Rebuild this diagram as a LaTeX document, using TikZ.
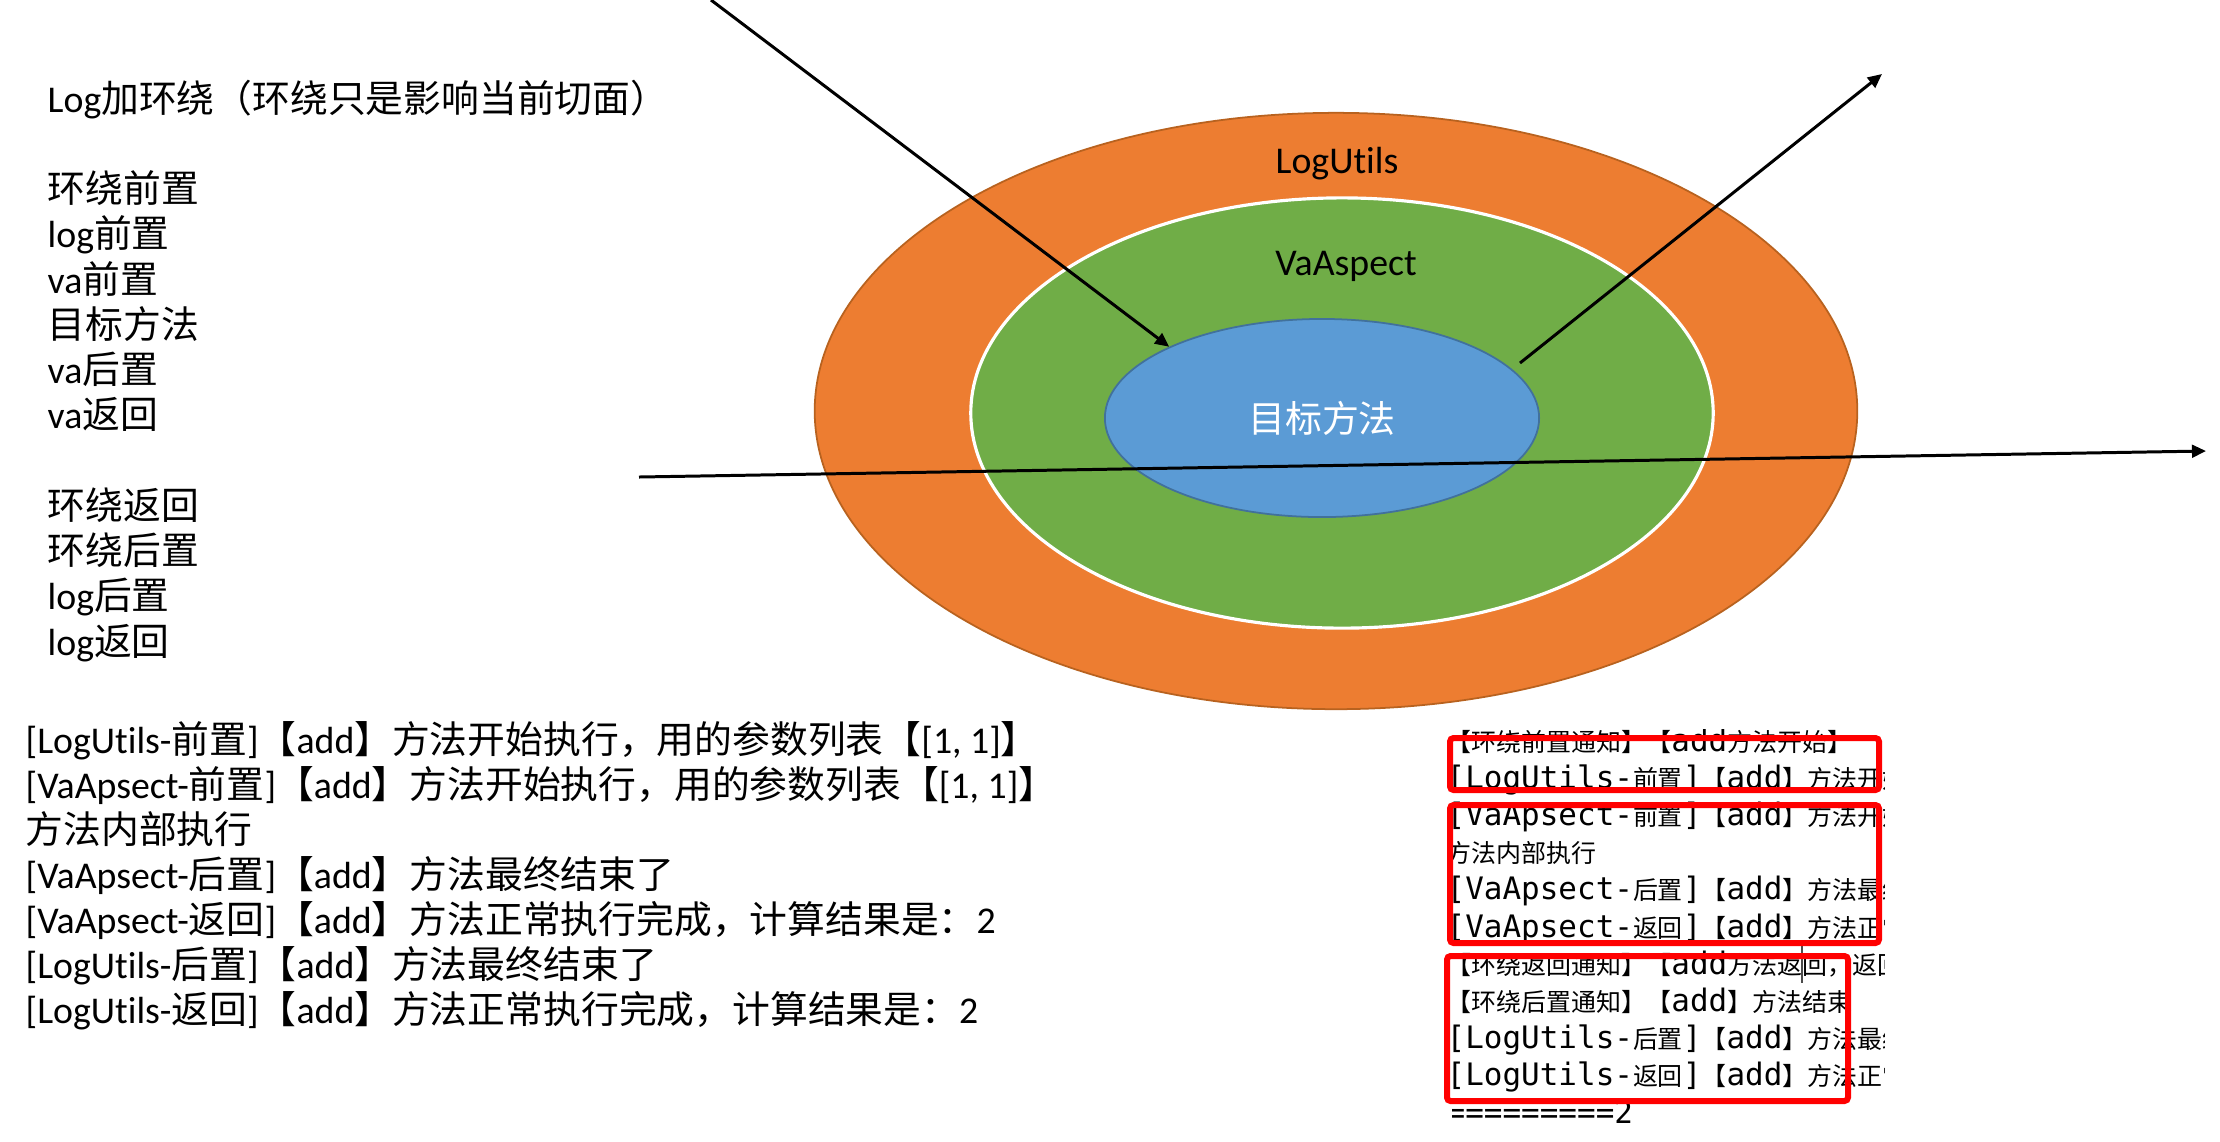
\documentclass[tikz,border=0pt]{standalone}
\usepackage{fontspec}
\usepackage{xcolor}
\usepackage{tikz}
\usetikzlibrary{shapes.geometric,arrows.meta}
\setmainfont{Carlito}[Ligatures={TeX,NoCommon}]
\newfontfamily\cjk{Noto Sans CJK SC}
\newfontfamily\conmono{DejaVu Sans Mono}
\newcommand\zh[1]{{\cjk #1}}
\newcommand\czh[1]{{\cjk\fontsize{7.1pt}{9pt}\selectfont #1}}
\definecolor{ringA1}{HTML}{ED7D31}
\definecolor{ringA1d}{HTML}{B8621F}
\definecolor{ringA2}{HTML}{70AD47}
\definecolor{ringA3}{HTML}{5B9BD5}
\definecolor{ringA3d}{HTML}{41719C}
\definecolor{markA1}{HTML}{FF0000}

\begin{document}
\begin{tikzpicture}[x=0.01cm,y=-0.01cm,
  txt/.style={anchor=base west,inner sep=0pt,font=\fontsize{10.75pt}{12pt}\selectfont},
  con/.style={anchor=base west,inner sep=0pt,font=\conmono\fontsize{8.8pt}{10pt}\selectfont},
  ring/.style={ellipse,inner sep=0pt},
  arr/.style={line width=0.85pt,-{Triangle[length=4pt,width=3.6pt]}},
  hot/.style={draw=markA1,line width=1.7pt,rounded corners=1pt}]
\useasboundingbox (0,0) rectangle (2220,1141);
% rings
\node[ring,fill=ringA1,draw=ringA1d,line width=0.5pt,minimum width=10.42cm,minimum height=5.96cm] (logutils) at (1336,411) {};
\node[ring,fill=ringA2,draw=white,line width=0.9pt,minimum width=7.42cm,minimum height=4.3cm] (vaaspect) at (1342,413) {};
\node[ring,fill=ringA3,draw=ringA3d,line width=0.5pt,minimum width=4.34cm,minimum height=1.98cm,text=white,font=\cjk\fontsize{10.5pt}{12pt}\selectfont] (target) at (1322,418) {目标方法};
\node[txt,anchor=base] (lbLog) at (1337,173) {LogUtils};
\node[txt,anchor=base] (lbVa) at (1346,275) {VaAspect};
% call paths
\coordinate (inA) at (711,0);
\coordinate (outA) at (1520,363);
\coordinate (outB) at (1882,74);
\coordinate (passA) at (639,477);
\coordinate (passB) at (2206,451);
\draw[arr] (inA) -- (target.155);
\draw[arr] (outA) -- (outB);
\draw[arr] (passA) -- (passB);
% order notes
\foreach \k/\msg in {0/{Log\zh{加环绕（环绕只是影响当前切面）}},2/{\zh{环绕前置}},3/{log\zh{前置}},4/{va\zh{前置}},5/{\zh{目标方法}},6/{va\zh{后置}},7/{va\zh{返回}},9/{\zh{环绕返回}},10/{\zh{环绕后置}},11/{log\zh{后置}},12/{log\zh{返回}}}
  \node[txt] (note\k) at (47,{112+45.25*\k}) {\msg};
\foreach \msg [count=\i] in {
  {[LogUtils-\zh{前置}]\zh{【}add\zh{】方法开始执行，用的参数列表【}[1, 1]\zh{】}},
  {[VaApsect-\zh{前置}]\zh{【}add\zh{】方法开始执行，用的参数列表【}[1, 1]\zh{】}},
  {\zh{方法内部执行}},
  {[VaApsect-\zh{后置}]\zh{【}add\zh{】方法最终结束了}},
  {[VaApsect-\zh{返回}]\zh{【}add\zh{】方法正常执行完成，计算结果是：}2},
  {[LogUtils-\zh{后置}]\zh{【}add\zh{】方法最终结束了}},
  {[LogUtils-\zh{返回}]\zh{【}add\zh{】方法正常执行完成，计算结果是：}2}}
  \node[txt] (log\i) at (25,{753+45.05*(\i-1)}) {\msg};
% console crop
\begin{scope}
\clip (1452,729) rectangle (1884,1141);
\foreach \msg [count=\i] in {
  {\czh{【环绕前置通知】【}add\czh{方法开始】}},
  {[LogUtils-\czh{前置}]\czh{【}add\czh{】方法开始执行，用的参数列表}},
  {[VaApsect-\czh{前置}]\czh{【}add\czh{】方法开始执行}},
  {\czh{方法内部执行}},
  {[VaApsect-\czh{后置}]\czh{【}add\czh{】方法最终结束了}},
  {[VaApsect-\czh{返回}]\czh{【}add\czh{】方法正常执行完成}},
  {\czh{【环绕返回通知】【}add\czh{方法返回，返回值}},
  {\czh{【环绕后置通知】【}add\czh{】方法结束}},
  {[LogUtils-\czh{后置}]\czh{【}add\czh{】方法最终结束了}},
  {[LogUtils-\czh{返回}]\czh{【}add\czh{】方法正常执行完成}},
  {=========2}}
  \node[con] (con\i) at (1446,{751+37.2*(\i-1)}) {\msg};
\end{scope}
\draw[line width=0.3pt,black!70] (1802,945) -- (1802,983);
\draw[hot] (1450,738) rectangle (1879,790);
\draw[hot] (1450,805) rectangle (1879,943);
\draw[hot] (1447,956) rectangle (1848,1101);
\end{tikzpicture}
\end{document}
